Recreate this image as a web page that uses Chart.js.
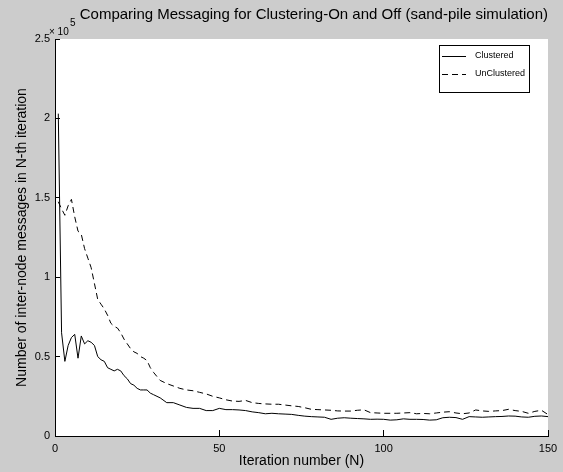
<!DOCTYPE html>
<html>
<head>
<meta charset="utf-8">
<script src="https://cdn.jsdelivr.net/npm/chart.js@4/dist/chart.umd.min.js"></script>
<style>
  body { margin: 0; background: #cccccc; }
  #wrap { width: 563px; height: 472px; position: relative; }
</style>
</head>
<body>
<div id="wrap"><canvas id="msgChart"></canvas></div>
<script>
// iteration numbers (x) shared by both series
const iterations = [
    1, 2, 3, 4, 5, 6, 7, 8, 9, 10, 11, 12, 13, 14, 15, 16, 17, 18, 19, 20,
    21, 22, 23, 24, 25, 26, 27, 28, 29, 30, 32, 34, 36, 38, 40, 42, 44, 46, 48, 50,
    52, 54, 56, 58, 60, 62, 64, 66, 68, 70, 72, 74, 76, 78, 80, 82, 84, 86, 88, 90,
    92, 94, 96, 98, 100, 102, 104, 106, 108, 110, 112, 114, 116, 118, 120, 122, 124, 126, 128, 130,
    132, 134, 136, 138, 140, 142, 144, 146, 148, 150
];

// messages per iteration (x 1e5)
const clustered = [
    2.03, 0.65, 0.47, 0.57, 0.62, 0.64, 0.49, 0.63, 0.58, 0.60, 0.59, 0.57, 0.50, 0.48, 0.47, 0.43, 0.42, 0.41, 0.42, 0.41,
    0.38, 0.36, 0.33, 0.32, 0.30, 0.29, 0.29, 0.29, 0.27, 0.26, 0.24, 0.21, 0.21, 0.195, 0.18, 0.174, 0.174, 0.16, 0.16, 0.174,
    0.166, 0.166, 0.164, 0.16, 0.152, 0.147, 0.14, 0.143, 0.14, 0.138, 0.136, 0.13, 0.125, 0.122, 0.12, 0.118, 0.105, 0.112, 0.115, 0.112,
    0.11, 0.108, 0.105, 0.106, 0.105, 0.100, 0.102, 0.108, 0.105, 0.105, 0.104, 0.100, 0.102, 0.115, 0.118, 0.116, 0.105, 0.122, 0.12, 0.118,
    0.12, 0.122, 0.123, 0.126, 0.125, 0.12, 0.118, 0.124, 0.126, 0.122
];
const unclustered = [
    1.475, 1.43, 1.39, 1.45, 1.49, 1.38, 1.29, 1.27, 1.18, 1.12, 1.06, 0.96, 0.86, 0.83, 0.80, 0.76, 0.71, 0.69, 0.68, 0.65,
    0.61, 0.58, 0.55, 0.53, 0.52, 0.50, 0.49, 0.475, 0.43, 0.40, 0.35, 0.33, 0.315, 0.30, 0.29, 0.285, 0.275, 0.265, 0.25, 0.24,
    0.228, 0.22, 0.218, 0.224, 0.21, 0.205, 0.202, 0.2, 0.2, 0.195, 0.19, 0.186, 0.178, 0.168, 0.166, 0.164, 0.162, 0.158, 0.157, 0.157,
    0.162, 0.165, 0.147, 0.145, 0.143, 0.143, 0.143, 0.145, 0.147, 0.14, 0.142, 0.14, 0.145, 0.15, 0.153, 0.145, 0.14, 0.145, 0.164, 0.158,
    0.155, 0.158, 0.16, 0.168, 0.16, 0.155, 0.143, 0.155, 0.162, 0.135
];

const seriesLabels = ['Clustered', 'UnClustered'];
const xTicks = [0, 50, 100, 150];
const yTicks = [0, 0.5, 1, 1.5, 2, 2.5];
const yExponent = 5;

const toPoints = vals => vals.map((v, i) => ({x: iterations[i], y: v * Math.pow(10, yExponent)}));

// white axes box, gray figure around it
const axesBackground = {
    id: 'axesBackground',
    beforeDraw(chart) {
        const {ctx, chartArea: a} = chart;
        ctx.save();
        ctx.fillStyle = '#ffffff';
        ctx.fillRect(a.left, a.top, a.right - a.left, a.bottom - a.top);
        ctx.restore();
    }
};

// "x 10^5" multiplier and boxed legend in the top right, matlab style
const matlabExtras = {
    id: 'matlabExtras',
    afterDraw(chart) {
        const {ctx, chartArea: a} = chart;
        ctx.save();
        ctx.fillStyle = '#000';
        ctx.font = '10px "Liberation Sans", Arial, sans-serif';
        ctx.textBaseline = 'alphabetic';
        ctx.textAlign = 'left';
        ctx.fillText('\u00d7 10', a.left - 6, a.top - 4);
        ctx.fillText(String(yExponent), a.left + 15, a.top - 13);

        const bx = 439, by = 45, bw = 90, bh = 47;
        ctx.fillStyle = '#fff';
        ctx.fillRect(bx, by, bw, bh);
        ctx.strokeStyle = '#000';
        ctx.lineWidth = 1;
        ctx.strokeRect(bx + 0.5, by + 0.5, bw, bh);
        ctx.font = '9px "Liberation Sans", Arial, sans-serif';
        chart.data.datasets.forEach((ds, i) => {
            const y = by + 11 + i * 18 + 0.5;
            ctx.setLineDash(ds.borderDash || []);
            ctx.beginPath();
            ctx.moveTo(bx + 3, y);
            ctx.lineTo(bx + 27, y);
            ctx.stroke();
            ctx.setLineDash([]);
            ctx.fillStyle = '#000';
            ctx.textBaseline = 'middle';
            ctx.fillText(ds.label, bx + 36, y - 1);
        });
        ctx.restore();
    }
};

const tickFont = {family: '"Liberation Sans", Arial, sans-serif', size: 11};
const labelFont = {family: '"Liberation Sans", Arial, sans-serif', size: 14};

new Chart(document.getElementById('msgChart'), {
    type: 'line',
    data: {
        datasets: [
        {
            label: seriesLabels[0],
            data: toPoints(clustered),
            borderColor: '#000',
            borderWidth: 1,
            pointRadius: 0,
            tension: 0
        },
        {
            label: seriesLabels[1],
            data: toPoints(unclustered),
            borderColor: '#000',
            borderWidth: 1,
            borderDash: [6, 4],
            pointRadius: 0,
            tension: 0
        }
        ]
    },
    options: {
        responsive: true,
        maintainAspectRatio: false,
        animation: false,
        layout: {
            padding: {left: 0, right: 15, top: 0, bottom: 0}
        },
        scales: {
            x: {
                type: 'linear',
                min: 0,
                max: 150,
                afterBuildTicks: scale => { scale.ticks = xTicks.map(v => ({value: v})); },
                afterFit: scale => {
                    scale.height = 36;
                    scale.paddingLeft = 0;
                    scale.paddingRight = 10;
                },
                border: {display: true, color: '#000', width: 1},
                grid: {drawOnChartArea: false, drawTicks: true, tickLength: -6, color: '#000'},
                ticks: {color: '#000', font: tickFont, padding: 12, maxRotation: 0},
                title: {display: true, text: 'Iteration number (N)', color: '#000', font: labelFont, padding: {top: 0, bottom: 2}}
            },
            y: {
                min: 0,
                max: 250000,
                afterBuildTicks: scale => { scale.ticks = yTicks.map(v => ({value: v * Math.pow(10, yExponent)})); },
                afterFit: scale => { scale.width = 55; },
                border: {display: true, color: '#000', width: 1},
                grid: {drawOnChartArea: false, drawTicks: true, tickLength: -5, color: '#000'},
                ticks: {
                    color: '#000',
                    font: tickFont,
                    padding: 10,
                    callback: v => String(v / Math.pow(10, yExponent))
                },
                title: {display: true, text: 'Number of inter-node messages in N-th iteration', color: '#000', font: labelFont, padding: {top: 14, bottom: 0}}
            }
        },
        plugins: {
            legend: {display: false},
            tooltip: {enabled: false},
            title: {
                display: true,
                fullSize: false,
                align: 'end',
                text: 'Comparing Messaging for Clustering-On and Off (sand-pile simulation)',
                color: '#000',
                font: {family: '"Liberation Sans", Arial, sans-serif', size: 15, weight: 'normal'},
                padding: {top: 6, bottom: 15}
            }
        }
    },
    plugins: [axesBackground, matlabExtras]
});
</script>
</body>
</html>
